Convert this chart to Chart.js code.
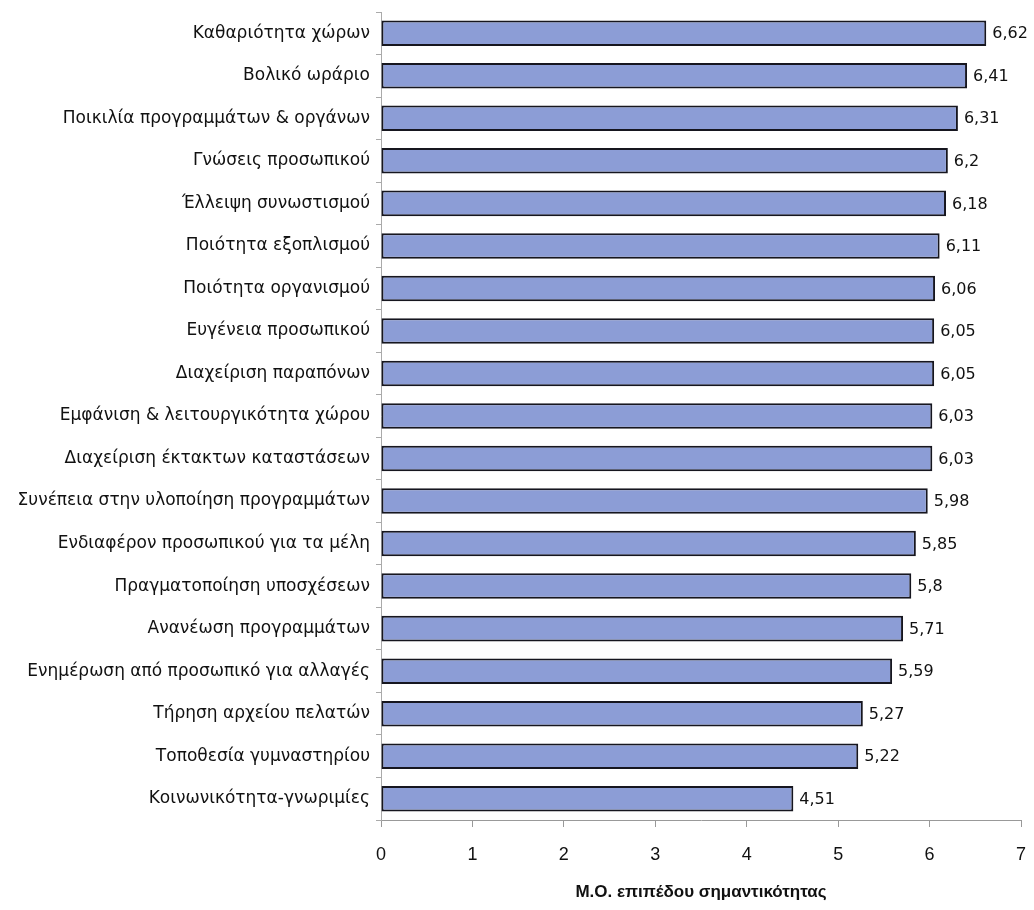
<!DOCTYPE html>
<html>
<head>
<meta charset="utf-8">
<script src="https://cdn.jsdelivr.net/npm/chart.js@4/dist/chart.umd.min.js"></script>
<style>
  html, body { margin: 0; padding: 0; background: #fff; }
  #wrap { width: 1034px; height: 910px; }
</style>
</head>
<body>
<div id="wrap"><canvas id="chart" width="1034" height="910"></canvas></div>
<script>
// Categories (top to bottom) and mean importance values
const labels = [
    'Καθαριότητα χώρων',
    'Βολικό ωράριο',
    'Ποικιλία προγραμμάτων & οργάνων',
    'Γνώσεις προσωπικού',
    'Έλλειψη συνωστισμού',
    'Ποιότητα εξοπλισμού',
    'Ποιότητα οργανισμού',
    'Ευγένεια προσωπικού',
    'Διαχείριση παραπόνων',
    'Εμφάνιση & λειτουργικότητα χώρου',
    'Διαχείριση έκτακτων καταστάσεων',
    'Συνέπεια στην υλοποίηση προγραμμάτων',
    'Ενδιαφέρον προσωπικού για τα μέλη',
    'Πραγματοποίηση υποσχέσεων',
    'Ανανέωση προγραμμάτων',
    'Ενημέρωση από προσωπικό για αλλαγές',
    'Τήρηση αρχείου πελατών',
    'Τοποθεσία γυμναστηρίου',
    'Κοινωνικότητα-γνωριμίες'
];
const values = [6.62, 6.41, 6.31, 6.2, 6.18, 6.11, 6.06, 6.05, 6.05, 6.03, 6.03, 5.98, 5.85, 5.8, 5.71, 5.59, 5.27, 5.22, 4.51];
const xTicks = [0, 1, 2, 3, 4, 5, 6, 7];
const xTitle = 'Μ.Ο. επιπέδου σημαντικότητας';

const font = '"Liberation Sans", Arial, sans-serif';
const wideFont = '"DejaVu Sans", sans-serif';

// draws the value next to each bar, with a decimal comma
const valueLabels = {
    id: 'valueLabels',
    afterDatasetsDraw(chart) {
        const ctx = chart.ctx;
        const meta = chart.getDatasetMeta(0);
        ctx.save();
        ctx.font = '16px ' + wideFont;
        ctx.fillStyle = '#111';
        ctx.textBaseline = 'middle';
        ctx.textAlign = 'left';
        meta.data.forEach((bar, i) => {
            const txt = String(values[i]).replace('.', ',');
            ctx.fillText(txt, bar.x + 6, bar.y + 1);
        });
        ctx.restore();
    }
};

new Chart(document.getElementById('chart').getContext('2d'), {
    type: 'bar',
    data: {
        labels: labels,
        datasets: [{
            data: values,
            backgroundColor: '#8c9dd6',
            borderColor: '#16161f',
            borderWidth: 2,
            borderSkipped: false,
            barPercentage: 0.6,
            categoryPercentage: 1
        }]
    },
    options: {
        indexAxis: 'y',
        responsive: false,
        animation: false,
        layout: { padding: { top: 12, right: 13, left: 0, bottom: 4 } },
        plugins: {
            legend: { display: false },
            tooltip: { enabled: false }
        },
        scales: {
            x: {
                min: 0,
                max: 7,
                afterBuildTicks: axis => { axis.ticks = xTicks.map(v => ({ value: v })); },
                afterFit: axis => { axis.paddingRight = 0; axis.paddingLeft = 0; },
                grid: { drawOnChartArea: false, tickLength: 7, color: '#999' },
                border: { color: '#999', width: 1 },
                ticks: { font: { size: 18, family: font }, color: '#111', padding: 17 },
                title: {
                    display: true,
                    text: xTitle,
                    font: { size: 17, weight: 'bold', family: font },
                    color: '#111',
                    padding: { top: 0, bottom: 3 }
                }
            },
            y: {
                afterFit: axis => { axis.width = 381; axis.paddingTop = 0; axis.paddingBottom = 0; },
                grid: { drawOnChartArea: false, tickLength: 5, color: '#aaa', offset: true },
                border: { color: '#aaa', width: 1 },
                ticks: { font: { size: 17, family: wideFont }, color: '#111', padding: 6 }
            }
        }
    },
    plugins: [valueLabels]
});
</script>
</body>
</html>
